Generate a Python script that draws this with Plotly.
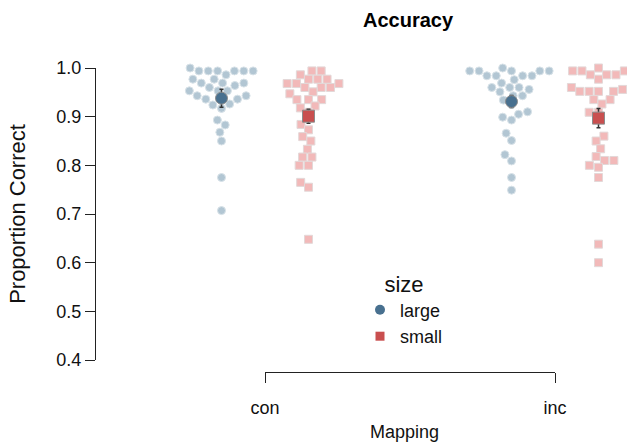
import numpy as np
import plotly.graph_objects as go

# ---------------- data ----------------
mappings = ["con", "inc"]
sizes = ["large", "small"]

con_large = [1.0, 0.994, 0.994, 0.994, 0.994, 0.994, 0.994, 0.986, 0.977, 0.977,
             0.969, 0.969, 0.969, 0.964, 0.96, 0.953, 0.953, 0.953, 0.943, 0.943,
             0.936, 0.936, 0.936, 0.926, 0.924, 0.917, 0.893, 0.883, 0.868, 0.85,
             0.775, 0.707]
con_small = [0.994, 0.994, 0.986, 0.977, 0.977, 0.977, 0.968, 0.968, 0.968, 0.96,
             0.96, 0.96, 0.951, 0.947, 0.935, 0.935, 0.935, 0.922, 0.918, 0.909,
             0.884, 0.873, 0.859, 0.85, 0.833, 0.817, 0.817, 0.8, 0.8, 0.765,
             0.755, 0.648]
inc_large = [1.0, 0.994, 0.994, 0.994, 0.994, 0.994, 0.984, 0.984, 0.984, 0.984,
             0.976, 0.969, 0.96, 0.96, 0.96, 0.956, 0.951, 0.943, 0.943, 0.934,
             0.925, 0.91, 0.905, 0.899, 0.893, 0.866, 0.851, 0.822, 0.809, 0.775,
             0.749]
inc_small = [1.0, 0.994, 0.994, 0.994, 0.986, 0.986, 0.986, 0.977, 0.96, 0.96,
             0.956, 0.952, 0.952, 0.952, 0.952, 0.935, 0.935, 0.926, 0.909, 0.909,
             0.86, 0.85, 0.834, 0.818, 0.81, 0.81, 0.8, 0.796, 0.775, 0.638, 0.6]

large_mean = [0.938, 0.931]
large_err = [0.0185, 0.0123]
small_mean = [0.901, 0.897]
small_err = [0.0144, 0.020]

yticks = [0.4, 0.5, 0.6, 0.7, 0.8, 0.9, 1.0]

# ---------------- layout geometry ----------------
W, H = 627, 442
ML, MR, MT, MB = 96, 0, 68, 70
PW = W - ML - MR
PH = H - MT - MB
GAP = 12
ydom0 = GAP / PH
PX_PER_X = 290.0
PX_PER_Y = (PH - GAP) / 0.6
X_LEFT = -(265 - ML) / PX_PER_X
X_RIGHT = X_LEFT + PW / PX_PER_X
DODGE = 0.15
R = 4.45

LIGHT_BLUE = "#b2c6d3"
LIGHT_PINK = "#f2b9b9"
DARK_BLUE = "#48708f"
DARK_RED = "#c94f4f"


def swarm_offsets(values, r=R, ypx=PX_PER_Y):
    """seaborn-style beeswarm; returns horizontal offsets in px"""
    vals = np.asarray(values, float)
    order = np.argsort(vals, kind="stable")
    ys = vals[order] * ypx
    placed = []
    for y in ys:
        if not placed:
            placed.append((0.0, y))
            continue
        neighbors = []
        for xj, yj in reversed(placed):
            if y - yj < 2 * r:
                neighbors.append((xj, yj))
            else:
                break
        cands = [0.0]
        left = True
        for xj, yj in neighbors:
            dy = y - yj
            dx = np.sqrt(max(4 * r * r - dy * dy, 0)) * 1.05
            cands.extend([xj - dx, xj + dx] if left else [xj + dx, xj - dx])
            left = not left
        cands = sorted(cands, key=abs)
        chosen = cands[0]
        for cx in cands:
            if all((cx - xj) ** 2 + (y - yj) ** 2 >= 4 * r * r - 1e-9 for xj, yj in neighbors):
                chosen = cx
                break
        placed.append((chosen, y))
    offs = np.empty(len(vals))
    offs[order] = [p[0] for p in placed]
    return offs


fig = go.Figure()
groups = [
    (0, -DODGE, con_large, "circle", LIGHT_BLUE, "#d8e2e8"),
    (0, DODGE, con_small, "square", LIGHT_PINK, "#e3d8d8"),
    (1, -DODGE, inc_large, "circle", LIGHT_BLUE, "#d8e2e8"),
    (1, DODGE, inc_small, "square", LIGHT_PINK, "#e3d8d8"),
]
for cat, dodge, vals, sym, col, lcol in groups:
    offs = swarm_offsets(vals)
    xs = cat + dodge + offs / PX_PER_X
    fig.add_trace(go.Scatter(
        x=xs, y=vals, mode="markers", showlegend=False, cliponaxis=False,
        marker=dict(symbol=sym, size=8, color=col, line=dict(color=lcol, width=1)),
        hoverinfo="y"))

xcat = np.arange(len(mappings))
fig.add_trace(go.Scatter(
    x=xcat - DODGE, y=large_mean, mode="markers", showlegend=False, cliponaxis=False,
    error_y=dict(type="data", array=large_err, color="#333333", thickness=1.5, width=2),
    marker=dict(symbol="circle", size=12, color=DARK_BLUE, line=dict(color="#8c8c8c", width=1))))
fig.add_trace(go.Scatter(
    x=xcat + DODGE, y=small_mean, mode="markers", showlegend=False, cliponaxis=False,
    error_y=dict(type="data", array=small_err, color="#333333", thickness=1.5, width=2),
    marker=dict(symbol="square", size=12, color=DARK_RED, line=dict(color="#8c8c8c", width=1))))
fig.add_trace(go.Scatter(x=[None], y=[None], mode="markers", name=sizes[0],
                         marker=dict(symbol="circle", size=10, color=DARK_BLUE)))
fig.add_trace(go.Scatter(x=[None], y=[None], mode="markers", name=sizes[1],
                         marker=dict(symbol="square", size=9, color=DARK_RED)))
fig.add_trace(go.Scatter(x=[0, 1], y=[None, None], xaxis="x2", yaxis="y2",
                         showlegend=False, hoverinfo="skip"))

FONT = "Liberation Sans, Arial, sans-serif"
fig.update_layout(
    width=W, height=H,
    margin=dict(l=ML, r=MR, t=MT, b=MB, pad=0, autoexpand=False),
    paper_bgcolor="white", plot_bgcolor="rgba(0,0,0,0)",
    font=dict(family=FONT, size=18, color="#111111"),
    title=dict(text="<b>Accuracy</b>", font=dict(size=20, color="#000000"),
               x=408 / W, xref="container", xanchor="center",
               y=1 - 20 / H, yref="container", yanchor="middle"),
    xaxis=dict(range=[X_LEFT, X_RIGHT], domain=[0, 1], visible=False),
    yaxis=dict(range=[0.4, 1.0], domain=[ydom0, 1], tickvals=yticks,
               tickformat=".1f", showline=True, linecolor="#222222", linewidth=1,
               ticks="outside", ticklen=10, tickcolor="#222222", showgrid=False,
               zeroline=False, title=dict(text="Proportion Correct", standoff=24)),
    xaxis2=dict(domain=[(265 - ML) / PW, (555 - ML) / PW], range=[0, 1], anchor="y2",
                tickvals=[0, 1], ticktext=mappings, showline=True, linecolor="#222222",
                linewidth=1, ticks="outside", ticklen=10, tickcolor="#222222",
                showgrid=False, zeroline=False, ticklabelstandoff=9),
    yaxis2=dict(domain=[0, ydom0], anchor="x2", visible=False, range=[0, 1]),
    legend=dict(title=dict(text="size", side="top center"),
                x=(360 - ML) / PW, xanchor="left",
                y=1 - (263 - MT) / PH, yanchor="top",
                bgcolor="rgba(0,0,0,0)", font=dict(size=18)),
    annotations=[dict(text="Mapping", xref="paper", yref="paper",
                      x=(404 - ML) / PW, y=-(432 - (H - MB)) / PH,
                      xanchor="center", yanchor="middle", showarrow=False,
                      font=dict(size=18))],
)
fig.write_html("out.html")
